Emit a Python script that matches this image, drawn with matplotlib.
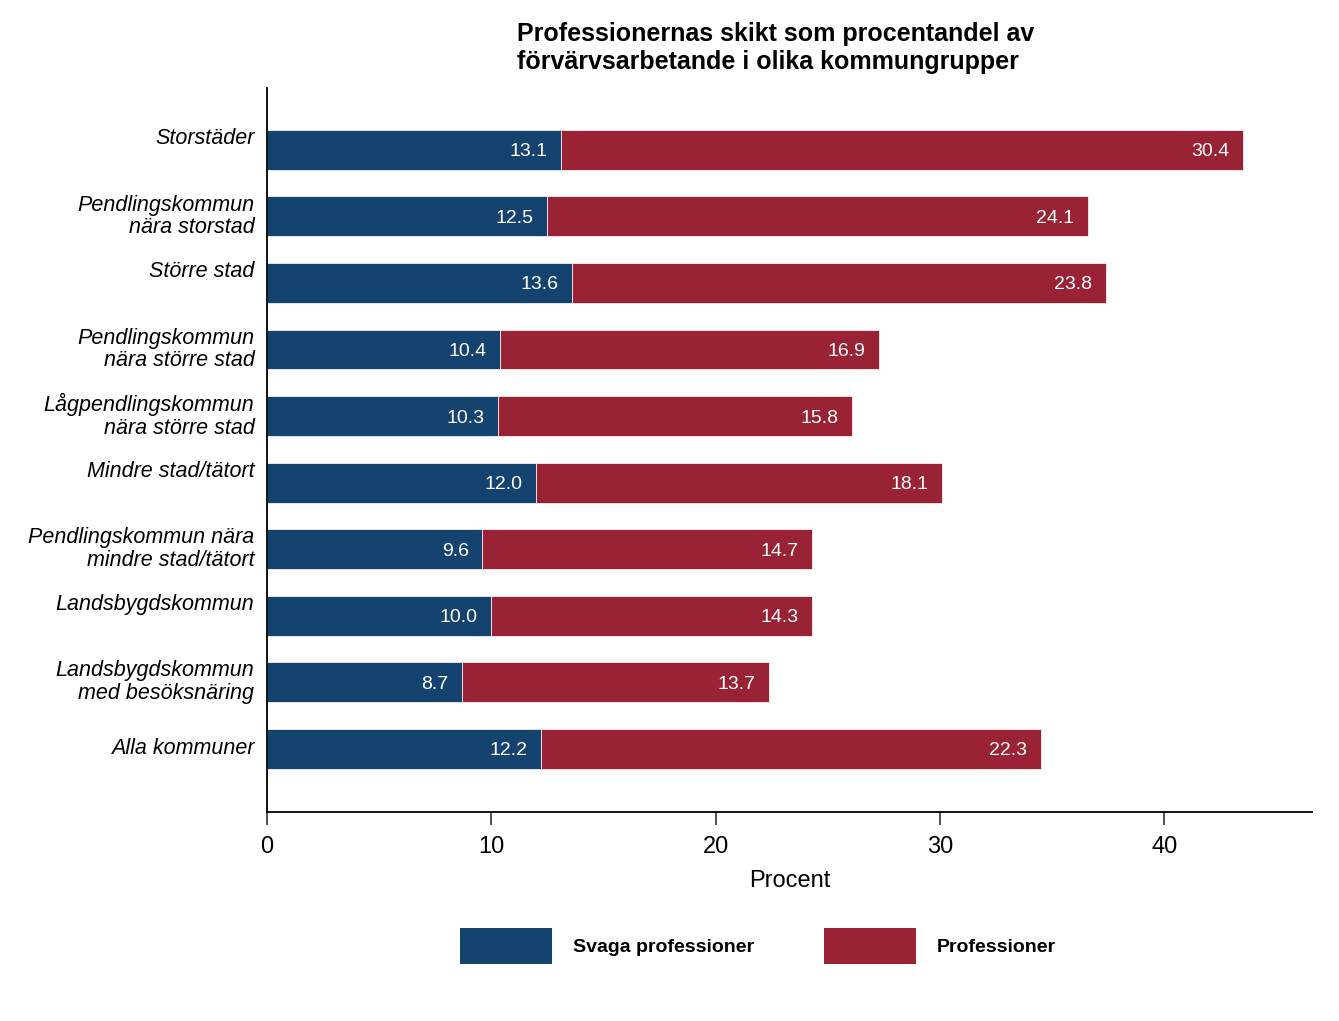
import numpy as np
import matplotlib.pyplot as plt
import matplotlib.transforms as mtransforms
from matplotlib.patches import Patch

plt.rcParams['font.family'] = ['Liberation Sans', 'DejaVu Sans']

categories = ['Storstäder', 'Pendlingskommun\nnära storstad', 'Större stad',
              'Pendlingskommun\nnära större stad', 'Lågpendlingskommun\nnära större stad',
              'Mindre stad/tätort', 'Pendlingskommun nära\nmindre stad/tätort',
              'Landsbygdskommun', 'Landsbygdskommun\nmed besöksnäring', 'Alla kommuner']
svaga = [13.1, 12.5, 13.6, 10.4, 10.3, 12.0, 9.6, 10.0, 8.7, 12.2]
prof = [30.4, 24.1, 23.8, 16.9, 15.8, 18.1, 14.7, 14.3, 13.7, 22.3]
series_names = ['Svaga professioner', 'Professioner']
xticks = [0, 10, 20, 30, 40]

blue = '#144370'
red = '#9a2235'

fig = plt.figure(figsize=(13.39, 10.21), dpi=100)
ax = fig.add_axes([0.1994, 0.2047, 0.7806, 0.7091])

y = np.arange(len(categories))
svaga = np.array(svaga)
prof = np.array(prof)
ax.barh(y, svaga, height=0.6, color=blue, edgecolor='white', linewidth=0.5)
ax.barh(y, prof, left=svaga, height=0.6, color=red, edgecolor='white', linewidth=0.5)

for yi, s, p in zip(y, svaga, prof):
    ax.text(s - 0.6, yi + 0.03, f'{s:.1f}', color='white', fontsize=14,
            ha='right', va='center')
    ax.text(s + p - 0.6, yi + 0.03, f'{p:.1f}', color='white', fontsize=14,
            ha='right', va='center')

ax.set_ylim(len(categories) - 1 + 0.95, -0.93)
ax.set_xlim(0, 46.6)
ax.set_yticks([])

# category labels (single-line ones sit a bit above the bar centre, as in the original)
trans = mtransforms.blended_transform_factory(ax.transAxes, ax.transData)
for i, lab in enumerate(categories):
    off = 0
    if '\n' not in lab and i != len(categories) - 1:
        off = -0.17
    ax.text(-0.012, i + off, lab, transform=trans, fontsize=15.5, style='italic',
            ha='right', va='center', linespacing=1.1)

ax.set_xticks(xticks)
ax.tick_params(axis='x', labelsize=17, length=9, width=1.2, pad=8, color='#333333')
ax.set_xlabel('Procent', fontsize=17, labelpad=9)
for s in ['top', 'right']:
    ax.spines[s].set_visible(False)
ax.spines['left'].set_linewidth(1.3)
ax.spines['bottom'].set_linewidth(1.3)

fig.text(0.386, 0.978, 'Professionernas skikt som procentandel av\nförvärvsarbetande i olika kommungrupper',
         fontsize=18, fontweight='bold', ha='left', va='top', linespacing=1.2)

handles = [Patch(facecolor=blue), Patch(facecolor=red)]
fig.legend(handles, series_names, loc='center', bbox_to_anchor=(0.566, 0.0735), ncol=2,
           frameon=False, prop={'size': 14, 'weight': 'bold'},
           handlelength=4.75, handleheight=2.4, handletextpad=1.05, columnspacing=3.6)

fig.savefig('out.png', dpi=100)
